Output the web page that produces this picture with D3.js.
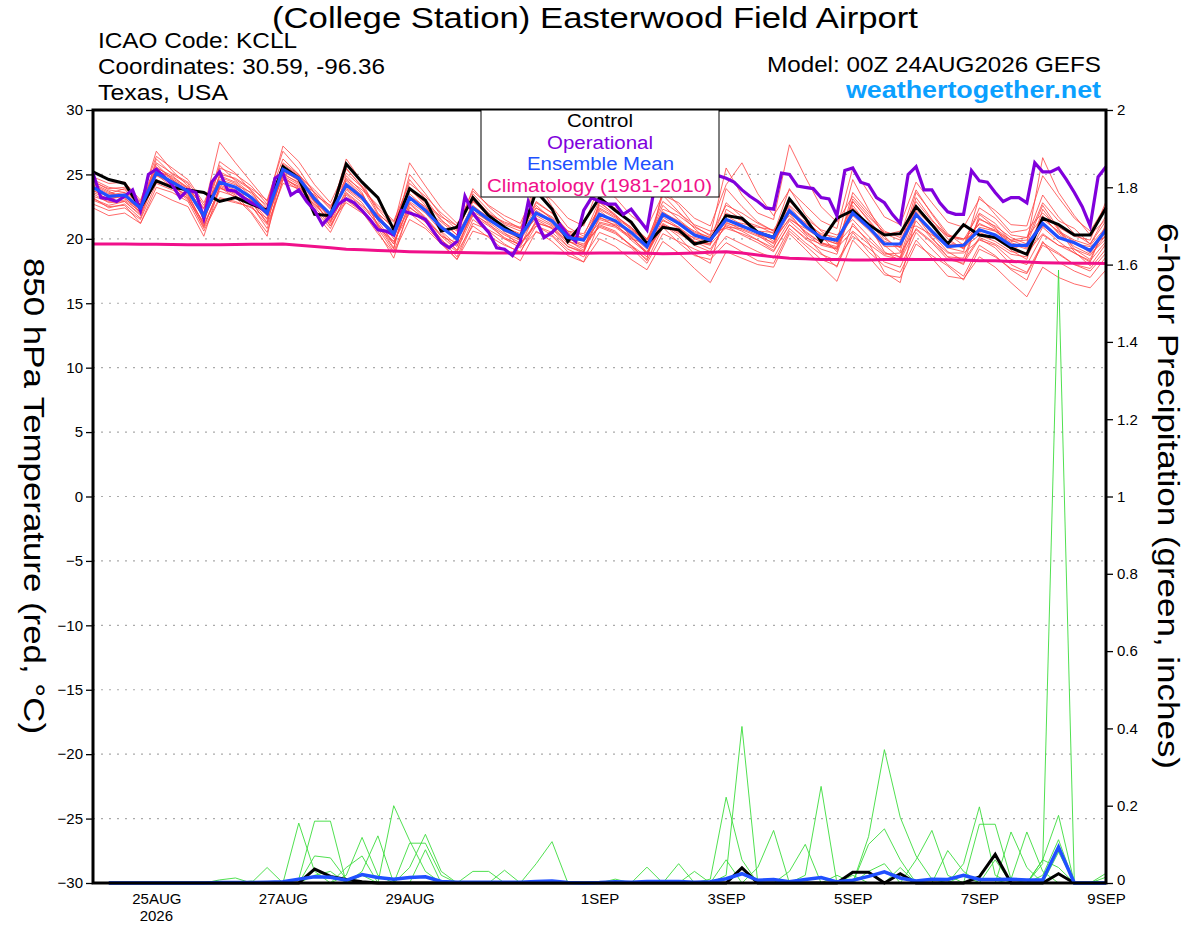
<!DOCTYPE html>
<html>
<head>
<meta charset="utf-8">
<script src="https://cdn.jsdelivr.net/npm/d3@7"></script>
<style>
body { margin: 0; background: #fff; }
text { font-family: "Liberation Sans", Arial, Helvetica, sans-serif; }
</style>
</head>
<body>
<div id="chart"></div>
<script>
///////////////////////////////////////////////////////////////////////////
//////////////////////////////// The data /////////////////////////////////
///////////////////////////////////////////////////////////////////////////

//Run start, 6-hourly steps for the ensemble, 3-hourly for the operational run
var runStart = Date.UTC(2026, 7, 24, 0);
var runEnd = Date.UTC(2026, 8, 9, 0);
var monthNames = ["JAN","FEB","MAR","APR","MAY","JUN","JUL","AUG","SEP","OCT","NOV","DEC"];
var xTickDays = ["2026-08-25","2026-08-27","2026-08-29","2026-09-01","2026-09-03","2026-09-05","2026-09-07","2026-09-09"];
var tempTicks = [-30,-25,-20,-15,-10,-5,0,5,10,15,20,25,30];
var precipTicks = [0,0.2,0.4,0.6,0.8,1,1.2,1.4,1.6,1.8,2];

//850 hPa temperature, one value per 6 hours (65 values)
var tempControl = [25.2,24.6,24.3,22.4, 24.5,24.0,23.8,23.6, 22.9,23.2,22.7,22.2, 25.6,24.7,21.9,21.8,
	25.8,24.4,23.2,20.7, 23.9,23.0,20.6,20.9, 23.2,21.8,20.9,20.1, 23.7,22.3,19.8,21.3,
	23.2,22.2,21.3,19.6, 20.9,20.7,19.6,19.9, 21.8,21.6,20.5,20.1, 23.1,21.6,19.8,21.6,
	22.2,21.1,20.3,20.4, 22.5,21.1,19.6,21.1, 20.3,20.1,19.3,18.8, 21.6,21.1,20.3,20.3, 22.4];

var tempMean = [24.0,23.3,23.4,22.4, 25.1,24.4,23.7,21.8, 24.4,24.0,23.2,22.0, 25.4,24.7,23.1,21.9,
	24.2,23.2,21.6,20.4, 23.2,22.2,20.9,20.0, 22.4,21.5,20.7,20.2, 22.0,21.4,20.1,19.9,
	21.9,21.4,20.5,19.4, 21.9,21.2,20.3,19.9, 21.5,21.0,20.5,20.1, 22.2,21.0,20.1,19.9,
	22.0,20.9,19.6,19.6, 21.9,20.6,19.4,19.5, 20.7,20.3,19.5,19.5, 21.2,20.1,19.7,19.1, 20.7];

var tempClimo = [19.6,19.6,19.6,19.58, 19.57,19.56,19.55,19.55, 19.55,19.56,19.57,19.58, 19.6,19.5,19.4,19.3,
	19.2,19.15,19.1,19.05, 19.0,18.97,18.95,18.93, 18.92,18.9,18.9,18.9, 18.9,18.9,18.88,18.88,
	18.9,18.9,18.9,18.88, 18.85,18.87,18.9,18.95, 19.0,18.9,18.75,18.6, 18.5,18.45,18.4,18.4,
	18.35,18.35,18.4,18.42, 18.4,18.4,18.38,18.35, 18.3,18.3,18.25,18.2, 18.15,18.12,18.1,18.1, 18.08];

//Operational run, one value per 3 hours (129 values)
var tempOper = [25.1,23.2,23.1,22.9,23.3,23.8,22.2,25.0, 25.4,24.8,24.2,23.2,23.8,23.6,21.6,24.4,
	25.2,23.8,23.7,23.2,22.8,22.5,22.0,24.7, 25.1,23.4,23.8,22.9,22.2,21.1,21.8,22.7,
	23.1,22.8,22.2,21.5,20.7,20.6,20.3,22.2, 22.0,21.8,21.5,20.6,19.7,19.3,19.8,23.3,
	22.0,21.2,20.5,19.3,19.2,18.7,19.8,22.9, 21.4,20.1,20.5,21.1,20.3,19.8,22.2,23.2,
	22.9,22.7,22.7,21.9,22.3,21.5,20.7,24.2, 24.5,24.8,24.2,24.0,24.5,24.8,24.9,24.9,
	24.7,24.4,23.8,23.3,22.9,22.4,22.3,25.1, 25.0,24.1,24.0,23.9,23.2,23.1,21.8,25.3,
	25.5,24.4,24.2,23.2,22.8,21.9,21.2,25.0, 25.6,23.8,23.8,22.8,22.1,21.9,21.9,25.3,
	24.5,24.4,23.6,22.9,23.2,23.2,22.8,25.9, 25.2,25.2,25.5,24.6,23.6,22.5,21.0,24.8, 25.6];

//Ensemble members, 6-hourly
var tempMembers = [
	[24.4,23.9,24.0,22.8, 26.8,25.3,24.1,22.3, 27.5,25.9,24.4,22.9, 26.2,25.0,23.6,22.4, 25.1,24.0,22.3,20.9, 24.6,23.1,21.5,20.3, 23.5,22.2,21.1,20.6, 22.8,22.0,20.5,19.8, 22.6,21.8,20.9,19.5, 23.4,22.1,20.8,19.7, 22.0,21.4,21.0,20.4, 23.9,21.9,20.6,19.8, 24.6,22.3,20.2,19.0, 23.2,21.5,20.0,19.2, 21.5,21.0,20.1,19.6, 22.6,20.8,19.2,18.4, 21.0],
	[23.0,22.5,22.6,21.2, 24.0,23.6,22.9,20.6, 23.1,22.8,22.5,21.1, 24.3,23.9,22.0,20.5, 23.0,22.1,20.4,18.9, 21.5,20.8,19.6,18.4, 20.6,20.2,19.5,19.0, 21.0,20.3,19.2,18.6, 20.5,20.0,19.3,18.1, 20.4,19.8,19.2,18.7, 20.2,19.6,19.0,18.5, 20.8,19.7,18.8,18.3, 20.2,19.3,18.2,17.8, 20.5,19.2,18.0,17.1, 19.5,18.7,17.6,16.8, 19.8,18.2,17.5,17.0, 18.6],
	[23.8,23.0,23.5,22.0, 26.2,25.0,24.3,21.4, 25.0,24.7,23.9,23.0, 26.8,25.4,23.5,21.3, 24.9,23.6,21.0,19.2, 24.0,22.9,21.4,20.6, 23.3,22.0,21.2,20.8, 24.6,22.5,20.9,20.2, 23.0,22.4,21.1,20.0, 21.4,20.9,19.8,19.5, 23.9,22.5,21.3,20.6, 21.8,20.5,19.7,19.4, 23.1,21.7,20.5,20.3, 23.8,21.9,20.2,19.9, 22.0,21.2,19.8,19.9, 22.8,21.4,20.8,19.6, 21.8],
	[24.6,24.0,23.8,22.6, 25.5,24.9,23.9,22.0, 24.8,24.3,23.0,21.5, 25.9,25.0,23.2,22.0, 24.5,23.3,21.1,19.8, 22.4,21.6,20.2,19.1, 21.8,21.0,20.1,19.5, 21.2,20.9,19.6,19.0, 22.8,21.9,20.7,19.9, 22.9,22.0,21.1,20.6, 20.8,20.4,19.9,19.3, 22.9,21.6,20.7,20.3, 21.5,20.2,18.9,18.6, 22.5,21.0,19.6,19.3, 20.3,19.8,19.0,18.9, 20.4,19.5,18.9,18.3, 19.8],
	[23.5,22.8,22.9,21.9, 24.6,24.1,23.3,21.2, 25.7,24.5,23.5,22.2, 24.9,24.2,22.6,21.5, 23.6,22.6,21.5,20.2, 22.9,22.0,20.6,19.5, 21.9,21.2,20.0,19.6, 21.3,20.8,19.4,19.0, 21.7,21.0,20.2,18.8, 21.0,20.6,19.5,19.0, 21.2,20.9,20.6,20.5, 22.0,20.4,19.5,19.2, 22.4,21.1,19.0,18.3, 20.8,19.8,18.6,18.5, 21.6,20.8,19.9,20.1, 21.7,20.5,19.8,18.9, 20.5],
	[24.3,23.7,23.1,22.3, 25.8,24.6,23.6,21.6, 24.1,23.5,23.0,21.8, 25.1,24.3,23.4,22.6, 23.9,23.0,21.9,21.0, 25.9,24.1,22.4,21.2, 22.9,21.8,20.9,20.4, 22.4,21.6,20.3,20.0, 21.2,20.9,20.0,19.6, 22.3,21.8,20.9,20.3, 25.5,23.4,22.0,21.5, 27.3,24.8,22.5,21.3, 23.3,21.9,20.4,19.9, 22.2,21.0,19.8,19.3, 20.9,20.6,19.9,19.4, 21.0,20.2,19.6,19.4, 20.2],
	[23.2,22.4,22.7,21.6, 24.9,24.3,23.5,21.0, 23.7,23.3,22.8,21.3, 25.2,24.6,23.0,21.0, 23.4,22.3,20.6,18.5, 22.5,21.4,20.0,18.6, 21.5,20.6,19.6,18.9, 21.5,20.8,19.8,19.3, 21.0,20.5,19.5,18.3, 20.9,19.7,18.7,18.4, 19.7,19.0,18.3,18.1, 20.6,19.5,18.4,17.9, 20.5,19.0,17.9,17.4, 19.9,18.5,17.1,16.9, 18.6,17.8,16.6,15.5, 17.8,17.0,16.5,16.2, 17.6],
	[24.1,23.5,23.9,22.9, 25.3,24.8,24.0,22.4, 24.6,24.2,23.6,22.6, 25.6,24.9,22.8,21.2, 23.8,22.8,21.0,19.6, 22.8,21.7,20.3,19.4, 22.1,21.4,20.8,20.2, 21.6,21.0,19.8,19.5, 21.5,21.1,20.6,19.9, 21.7,20.9,20.0,19.6, 22.8,21.7,20.6,19.8, 21.6,20.6,19.7,19.2, 23.6,22.1,20.6,20.1, 22.9,21.4,20.3,20.0, 20.5,20.0,19.2,19.6, 26.3,23.6,21.8,20.3, 21.5],
	[22.7,22.2,22.4,21.5, 24.3,23.8,23.2,20.8, 23.2,22.9,22.4,21.6, 24.8,24.0,23.0,22.0, 26.2,24.4,22.0,20.8, 23.5,22.4,21.1,19.8, 22.0,21.1,20.3,19.7, 21.0,20.5,19.4,18.9, 22.2,21.2,19.9,18.9, 21.5,20.8,19.8,19.2, 21.1,20.6,19.9,19.1, 21.1,20.1,19.6,19.3, 20.6,19.6,18.7,18.4, 21.4,20.0,18.9,18.9, 19.9,19.5,18.4,18.0, 20.3,19.5,19.2,18.7, 20.3],
	[24.8,24.3,24.4,23.0, 26.4,25.5,24.6,22.8, 25.5,25.0,24.1,22.7, 27.2,26.0,24.2,22.8, 25.4,24.1,22.4,21.3, 23.8,22.8,21.7,21.0, 23.0,21.9,21.3,20.9, 22.4,21.7,20.6,20.4, 22.4,21.7,20.9,19.7, 22.6,21.5,20.5,20.1, 21.8,21.1,20.4,19.6, 22.5,21.1,20.1,19.6, 21.8,20.7,19.4,19.4, 22.1,20.5,19.3,19.0, 23.3,21.9,20.5,20.7, 22.0,20.9,20.2,19.9, 22.9],
	[22.4,21.8,22.0,21.2, 23.6,23.0,22.5,20.2, 24.0,23.4,22.1,20.5, 24.6,23.8,22.7,21.4, 22.8,22.0,20.9,19.8, 22.0,21.0,19.7,18.4, 21.2,20.7,20.0,19.3, 20.5,20.2,19.0,18.2, 21.3,21.0,20.1,18.9, 21.1,20.4,19.7,19.6, 20.9,20.8,20.3,20.0, 21.5,20.8,20.0,19.6, 21.0,19.9,18.8,18.9, 20.7,19.7,18.4,18.1, 20.0,19.3,18.0,17.4, 19.7,18.9,18.0,17.7, 19.2],
	[23.9,23.2,23.3,22.5, 25.1,24.5,23.8,21.5, 24.3,23.8,22.9,21.2, 25.5,24.8,23.3,21.7, 24.3,23.4,21.8,20.0, 23.1,22.3,21.3,20.3, 22.6,21.6,20.6,20.0, 22.2,21.4,20.3,20.1, 21.6,21.3,20.3,19.2, 21.2,20.5,20.1,19.8, 21.3,20.7,20.2,19.7, 22.0,21.2,20.4,20.1, 21.9,21.2,20.3,20.6, 21.0,20.3,19.5,19.6, 21.2,20.6,19.6,19.2, 21.5,20.6,19.9,19.5, 20.9],
	[23.3,22.9,23.0,22.1, 25.0,24.0,23.0,21.3, 24.9,24.4,23.3,22.3, 25.0,24.4,22.3,20.8, 23.5,22.5,21.2,19.3, 23.9,22.6,20.5,19.1, 22.3,21.3,20.4,19.9, 21.8,21.1,20.0,19.6, 20.9,20.4,19.5,18.6, 22.0,21.4,20.4,20.0, 21.0,20.3,19.7,19.0, 21.1,20.0,19.2,18.8, 22.6,21.0,19.5,18.5, 21.8,20.4,19.0,18.3, 20.1,19.6,18.8,18.6, 20.9,19.8,18.9,18.2, 21.2],
	[24.2,23.6,23.2,22.0, 25.6,24.7,23.9,21.9, 24.2,23.6,23.3,22.1, 25.3,24.5,23.6,22.3, 24.0,23.1,21.7,20.6, 23.3,22.5,21.0,20.1, 22.5,21.7,20.9,20.3, 22.9,22.0,20.6,20.0, 22.3,21.6,20.8,20.0, 22.1,21.3,20.6,20.1, 21.4,21.2,20.9,20.7, 22.6,21.5,20.3,19.7, 22.9,21.5,20.0,19.3, 22.6,21.2,20.2,20.0, 21.1,20.7,19.7,19.3, 21.8,20.4,19.4,18.8, 20.0],
	[23.6,23.1,23.3,22.2, 24.4,24.0,23.4,21.1, 23.9,23.6,22.6,20.8, 24.6,24.1,22.5,21.0, 23.1,22.2,20.8,19.0, 22.2,21.3,19.9,19.0, 21.0,20.1,19.1,18.3, 20.6,19.8,18.7,18.2, 20.0,19.4,18.4,17.6, 19.8,18.9,17.7,16.6, 19.0,18.5,18.0,17.8, 20.4,19.2,17.9,16.7, 19.9,18.6,17.2,17.0, 19.6,18.7,17.9,16.8, 19.2,18.6,17.7,17.3, 19.5,18.8,18.0,17.5, 18.9],
	[23.7,23.4,23.6,22.7, 25.9,25.1,24.4,22.6, 25.2,24.6,23.8,22.4, 25.8,24.9,23.8,22.5, 24.7,23.8,22.6,21.4, 24.3,23.3,22.0,21.0, 23.7,22.6,21.8,21.2, 23.9,23.0,21.6,21.0, 24.2,23.2,21.8,20.9, 23.4,22.8,21.6,21.0, 24.2,25.9,23.5,21.8, 23.8,22.6,21.4,20.8, 25.5,23.6,21.7,21.1, 24.4,22.8,21.3,20.9, 23.1,22.2,21.1,21.0, 24.9,23.2,21.6,20.6, 22.6],
	[23.1,22.6,22.9,21.8, 25.2,24.2,23.1,20.9, 24.0,23.2,22.0,20.2, 25.7,24.5,22.9,21.6, 24.6,23.5,21.4,19.6, 22.7,21.6,20.2,19.7, 22.9,21.9,20.5,19.4, 22.1,21.2,19.9,19.1, 22.9,21.8,20.1,19.0, 21.1,20.2,18.8,18.1, 22.3,21.5,20.3,19.4, 21.4,20.3,18.9,17.8, 21.2,19.7,17.4,16.6, 21.8,20.1,18.6,18.0, 21.9,20.9,19.1,18.4, 22.3,20.7,19.0,17.9, 19.6],
	[24.5,23.8,23.6,22.4, 25.4,24.6,23.8,21.6, 26.0,25.1,23.7,21.9, 24.8,23.9,22.9,21.7, 25.5,24.0,21.9,20.3, 25.0,23.5,21.8,20.7, 23.9,22.5,21.5,20.8, 22.6,21.5,20.1,19.4, 21.1,20.6,19.4,18.4, 23.9,22.6,21.0,20.2, 22.6,22.0,21.2,20.6, 22.1,21.3,20.2,19.0, 22.9,21.4,19.8,19.4, 23.6,22.0,20.4,19.5, 22.4,21.6,20.3,20.1, 23.4,21.7,20.4,19.6, 21.4]
];

//6-hour precipitation (inches), first value valid at +6h (64 values)
var precipControl = [0,0,0,0,0,0,0,0, 0,0,0,0,0,0.036,0.017,0.009, 0.003,0,0,0,0,0,0,0, 0,0,0,0,0,0,0,0,
	0,0,0,0,0,0,0,0, 0.039,0,0,0,0,0,0,0.028, 0.028,0,0.024,0,0,0,0,0.016, 0.074,0,0,0,0.024,0,0,0];

var precipMean = [0,0,0,0,0,0,0,0.001, 0.001,0.001,0.002,0.003,0.01,0.016,0.015,0.007, 0.022,0.014,0.01,0.014,0.016,0.004,0.002,0.002,
	0.002,0.002,0.002,0.004,0.005,0.001,0,0.001, 0.003,0.002,0.004,0.004,0.004,0.002,0.003,0.011,
	0.024,0.007,0.009,0.003,0.009,0.014,0.003,0.007, 0.017,0.029,0.013,0.005,0.01,0.009,0.02,0.009,
	0.009,0.01,0.008,0.008,0.093,0,0,0];

var precipMembers = [
	[0,0,0,0,0,0,0,0, 0,0,0.04,0,0.155,0.03,0,0, 0,0,0,0,0,0,0,0, 0,0,0,0,0,0,0,0, 0,0,0,0,0,0,0.01,0.222, 0.06,0,0,0,0,0,0,0, 0,0,0,0,0,0,0.05,0.197, 0.02,0,0,0,0,0,0,0],
	[0,0,0,0,0,0,0,0, 0,0,0,0,0.01,0.16,0.16,0, 0,0,0,0,0,0,0,0, 0,0,0,0,0,0,0,0, 0,0,0,0,0,0,0,0.02, 0.405,0,0,0,0,0,0,0, 0,0,0,0,0,0,0,0, 0,0.01,0.132,0.03,0,0,0,0],
	[0,0,0,0,0,0,0,0, 0,0,0,0,0,0.07,0.065,0.01, 0,0,0.2,0.11,0.03,0,0,0, 0,0,0,0,0,0,0,0, 0,0,0,0,0,0,0,0, 0,0,0,0,0.02,0.25,0,0, 0,0,0,0,0,0,0,0, 0,0,0,0.06,0.175,0,0,0],
	[0,0,0,0,0,0,0,0, 0,0,0,0,0,0,0,0.02, 0.118,0.02,0,0,0,0,0,0, 0,0,0,0.05,0.107,0,0,0, 0,0,0,0,0,0,0,0, 0,0,0,0,0,0,0,0, 0.12,0.345,0.17,0.07,0.01,0,0,0, 0,0,0,0,0,0,0,0],
	[0,0,0,0,0,0,0,0, 0,0,0,0,0,0,0,0, 0.03,0.122,0,0,0,0,0,0, 0,0,0,0,0,0,0,0, 0,0,0,0,0,0,0,0, 0,0.04,0.136,0,0,0,0,0, 0,0,0,0,0,0,0,0, 0,0,0,0.05,1.586,0,0,0],
	[0,0,0,0,0,0,0,0, 0,0,0,0,0,0,0,0, 0,0,0,0.103,0.103,0.02,0,0, 0,0,0,0,0,0,0,0, 0,0,0,0,0,0,0,0, 0,0,0,0,0,0,0,0, 0.1,0.14,0.06,0,0,0,0,0, 0,0,0,0.02,0.112,0,0,0],
	[0,0,0,0,0,0,0,0, 0,0,0,0,0,0,0,0, 0,0,0,0.04,0.126,0.03,0,0, 0,0,0,0,0,0,0,0, 0,0,0,0,0,0,0,0, 0,0,0,0,0,0,0,0, 0,0,0,0.06,0.136,0.02,0,0.152, 0.152,0.01,0,0,0,0,0,0],
	[0,0,0,0,0,0,0,0, 0,0,0,0,0,0,0,0.04, 0.07,0,0,0,0.086,0,0,0, 0,0,0,0,0,0,0,0, 0,0,0,0,0,0,0,0, 0,0,0,0.03,0.1,0,0,0, 0,0,0,0,0,0,0,0, 0,0.132,0.04,0,0,0,0,0],
	[0,0,0,0,0,0,0,0, 0,0,0,0,0,0,0,0, 0,0,0,0,0,0,0,0.03, 0.03,0,0,0,0,0,0,0, 0,0,0.041,0,0,0,0,0, 0,0,0,0,0,0,0,0, 0,0,0,0,0,0.084,0.03,0, 0,0,0,0,0.08,0,0,0.025],
	[0,0,0,0,0,0,0,0.008, 0.013,0,0,0,0,0,0,0, 0,0,0,0,0,0,0,0, 0,0.033,0,0,0,0,0,0, 0,0,0,0,0.05,0,0,0, 0,0,0,0,0,0,0,0, 0.03,0.05,0,0,0,0,0,0, 0,0,0,0,0,0,0,0.015],
	[0,0,0,0,0,0,0,0, 0,0,0,0,0,0.02,0.03,0, 0,0,0,0,0,0,0,0, 0,0,0,0,0,0,0,0, 0.01,0,0,0,0,0.03,0,0, 0,0,0,0,0,0,0.02,0, 0,0,0.04,0,0,0,0,0, 0.06,0,0,0,0,0,0,0],
	[0,0,0,0,0,0,0,0, 0,0.005,0,0,0,0,0,0, 0.02,0,0,0,0,0,0,0, 0,0,0,0,0,0,0,0, 0,0,0,0,0,0,0,0.06, 0,0,0,0,0,0,0,0.02, 0,0,0,0,0,0,0.02,0, 0,0,0,0.06,0.04,0,0,0]
];

///////////////////////////////////////////////////////////////////////////
//////////////////////////// Set up the SVG ///////////////////////////////
///////////////////////////////////////////////////////////////////////////

var width = 1200, height = 927;
var plot = {left: 93, right: 1106, top: 110, bottom: 883};

var svg = d3.select("#chart").append("svg")
	.attr("width", width)
	.attr("height", height);

var HOUR = 3600 * 1000;
var x = d3.scaleUtc()
	.domain([new Date(runStart), new Date(runEnd)])
	.range([plot.left, plot.right]);
var yT = d3.scaleLinear().domain([-30, 30]).range([plot.bottom, plot.top]);
var yP = d3.scaleLinear().domain([0, 2]).range([plot.bottom, plot.top]);

var lineT6 = d3.line()
	.x(function(d, i) { return x(new Date(runStart + i * 6 * HOUR)); })
	.y(function(d) { return yT(d); });
var lineT3 = d3.line()
	.x(function(d, i) { return x(new Date(runStart + i * 3 * HOUR)); })
	.y(function(d) { return yT(d); });
var lineP = d3.line()
	.x(function(d, i) { return x(new Date(runStart + (i + 1) * 6 * HOUR)); })
	.y(function(d) { return yP(d); });

///////////////////////////////////////////////////////////////////////////
////////////////////////////// Grid lines /////////////////////////////////
///////////////////////////////////////////////////////////////////////////

svg.append("g").attr("class", "grid")
	.selectAll("line")
	.data(tempTicks.filter(function(d) { return d > -30 && d < 30; }))
	.enter().append("line")
	.attr("x1", plot.left).attr("x2", plot.right)
	.attr("y1", function(d) { return yT(d); })
	.attr("y2", function(d) { return yT(d); })
	.style("stroke", "#aaa")
	.style("stroke-width", 1.2)
	.style("stroke-dasharray", "2,6");

///////////////////////////////////////////////////////////////////////////
//////////////////////////////// The lines ////////////////////////////////
///////////////////////////////////////////////////////////////////////////

svg.append("g").selectAll(".member")
	.data(tempMembers)
	.enter().append("path")
	.attr("class", "member")
	.attr("d", lineT6)
	.style("fill", "none")
	.style("stroke", "#ff4444")
	.style("stroke-width", 0.8);

svg.append("g").selectAll(".pmember")
	.data(precipMembers)
	.enter().append("path")
	.attr("class", "pmember")
	.attr("d", lineP)
	.style("fill", "none")
	.style("stroke", "#3cdc3c")
	.style("stroke-width", 0.9);

svg.append("path").datum(tempClimo)
	.attr("d", lineT6)
	.style("fill", "none").style("stroke", "#f0108a").style("stroke-width", 3);

svg.append("path").datum(tempControl)
	.attr("d", lineT6)
	.style("fill", "none").style("stroke", "#000").style("stroke-width", 3);

svg.append("path").datum(tempOper)
	.attr("d", lineT3)
	.style("fill", "none").style("stroke", "#8000dc").style("stroke-width", 3.2);

svg.append("path").datum(tempMean)
	.attr("d", lineT6)
	.style("fill", "none").style("stroke", "#2050ff").style("stroke-width", 3.2);

svg.append("path").datum(precipControl)
	.attr("d", lineP)
	.style("fill", "none").style("stroke", "#000").style("stroke-width", 3);

svg.append("path").datum(precipMean)
	.attr("d", lineP)
	.style("fill", "none").style("stroke", "#2050ff").style("stroke-width", 3.5);

///////////////////////////////////////////////////////////////////////////
/////////////////////////////// The axes //////////////////////////////////
///////////////////////////////////////////////////////////////////////////

var leftAxis = svg.append("g")
	.attr("transform", "translate(" + plot.left + ",0)")
	.call(d3.axisLeft(yT).tickValues(tempTicks).tickSize(7).tickPadding(3).tickFormat(d3.format("d")));

var rightAxis = svg.append("g")
	.attr("transform", "translate(" + plot.right + ",0)")
	.call(d3.axisRight(yP).tickValues(precipTicks).tickSize(7).tickPadding(4).tickFormat(function(d) { return +d.toFixed(1); }));

var xDates = xTickDays.map(function(s) { return new Date(s + "T00:00:00Z"); });
var bottomAxis = svg.append("g")
	.attr("transform", "translate(0," + plot.bottom + ")")
	.call(d3.axisBottom(x).tickValues(xDates).tickSize(0).tickPadding(10)
		.tickFormat(function(d) { return d.getUTCDate() + monthNames[d.getUTCMonth()]; }));

[leftAxis, rightAxis, bottomAxis].forEach(function(a) {
	a.select(".domain").remove();
	a.selectAll("text").style("font-size", "15px").style("fill", "#000");
	a.selectAll("line").style("stroke", "#000").style("stroke-width", 1.3);
});

//lift the bottom right label a bit so it clears the last date
rightAxis.selectAll(".tick text")
	.filter(function(d) { return d === 0; })
	.attr("dy", "0.1em");

//year under the first date
bottomAxis.append("text")
	.attr("x", x(xDates[0]))
	.attr("y", 38)
	.attr("text-anchor", "middle")
	.style("font-size", "15px")
	.style("fill", "#000")
	.text(xDates[0].getUTCFullYear());

//plot frame
svg.append("rect")
	.attr("x", plot.left).attr("y", plot.top)
	.attr("width", plot.right - plot.left)
	.attr("height", plot.bottom - plot.top)
	.style("fill", "none")
	.style("stroke", "#000")
	.style("stroke-width", 3);

///////////////////////////////////////////////////////////////////////////
//////////////////////////////// The legend ///////////////////////////////
///////////////////////////////////////////////////////////////////////////

var legend = svg.append("g").attr("class", "legend");
legend.append("rect")
	.attr("x", 481).attr("y", plot.top)
	.attr("width", 238).attr("height", 87)
	.style("fill", "#fff").style("stroke", "#000").style("stroke-width", 1);

var legendItems = [
	{label: "Control", color: "#000", x: 567, y: 127, len: 66},
	{label: "Operational", color: "#8000dc", x: 547, y: 149, len: 106},
	{label: "Ensemble Mean", color: "#2050ff", x: 527, y: 170, len: 147},
	{label: "Climatology (1981-2010)", color: "#f0108a", x: 487, y: 192, len: 225}
];
legend.selectAll(".legend-text")
	.data(legendItems)
	.enter().append("text")
	.attr("class", "legend-text")
	.attr("x", function(d) { return d.x; })
	.attr("y", function(d) { return d.y; })
	.attr("textLength", function(d) { return d.len; })
	.attr("lengthAdjust", "spacingAndGlyphs")
	.style("font-size", "18px")
	.style("fill", function(d) { return d.color; })
	.text(function(d) { return d.label; });

///////////////////////////////////////////////////////////////////////////
///////////////////////////////// Titles //////////////////////////////////
///////////////////////////////////////////////////////////////////////////

function addText(str, xPos, yPos, size, len, color, weight) {
	return svg.append("text")
		.attr("x", xPos).attr("y", yPos)
		.attr("textLength", len)
		.attr("lengthAdjust", "spacingAndGlyphs")
		.style("font-size", size + "px")
		.style("font-weight", weight || "normal")
		.style("fill", color || "#000")
		.text(str);
}

addText("(College Station) Easterwood Field Airport", 272, 28, 30, 646);
addText("ICAO Code: KCLL", 98, 48, 22, 199);
addText("Coordinates: 30.59, -96.36", 98, 74, 22, 287);
addText("Texas, USA", 98, 100, 22, 130);
addText("Model: 00Z 24AUG2026 GEFS", 767, 72, 22, 334);
addText("weathertogether.net", 846, 98, 23, 255, "#0ba0ff", "bold");

svg.append("text")
	.attr("transform", "translate(24," + 258 + ") rotate(90)")
	.attr("textLength", 476)
	.attr("lengthAdjust", "spacingAndGlyphs")
	.style("font-size", "30px")
	.text("850 hPa Temperature (red, °C)");

svg.append("text")
	.attr("transform", "translate(1158," + 223 + ") rotate(90)")
	.attr("textLength", 546)
	.attr("lengthAdjust", "spacingAndGlyphs")
	.style("font-size", "30px")
	.text("6-hour Precipitation (green, inches)");
</script>
</body>
</html>
